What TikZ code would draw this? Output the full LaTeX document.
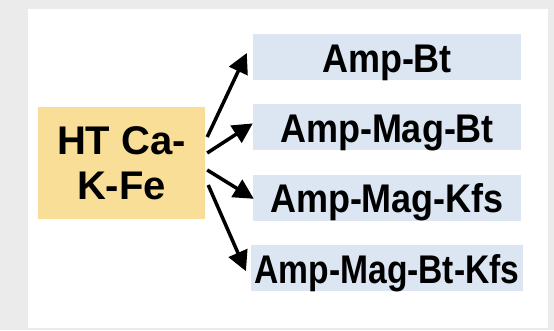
\documentclass[tikz,border=0pt]{standalone}
\usepackage{fontspec}
\setmainfont{Liberation Sans}
\newfontfamily\labfont[FakeStretch=0.9]{Liberation Sans}
\newfontfamily\tightfont[FakeStretch=0.84]{Liberation Sans}
\usepackage{tikz}
\usetikzlibrary{arrows.meta,positioning}

\definecolor{rockyellow}{RGB}{248,222,150}
\definecolor{assemblue}{RGB}{220,230,242}
\definecolor{framegray}{RGB}{235,235,235}

\tikzset{
  rock/.style={rectangle,fill=rockyellow,minimum width=167pt,minimum height=112pt,
    align=center,font=\bfseries\fontsize{40}{45}\selectfont},
  assem/.style={rectangle,fill=assemblue,minimum width=268pt,inner ysep=0pt,
    text height=38pt,text depth=8pt,font=\labfont\bfseries\fontsize{40}{45}\selectfont},
  arr/.style={line width=3.5pt,-{Triangle[length=20pt,width=20pt]}}
}

\begin{document}
\begin{tikzpicture}[x=1pt,y=-1pt,node distance=24pt]
            \fill [framegray] (0,0) rectangle (554,330);
            \fill [white] (28,9) rectangle (548,328);
            \useasboundingbox (0,0) rectangle (554,330);

            \node [rock] (htcakfe) at (121.5,163) {HT Ca-\\K-Fe};

            \node [assem] (ampbt) at (387,57) {Amp-Bt};
            \node [assem,below=of ampbt] (ampmagbt) {Amp-Mag-Bt};
            \node [assem,below=of ampmagbt] (ampmagkfs) {Amp-Mag-Kfs};
            \node [assem,below=of ampmagkfs,font=\tightfont\bfseries\fontsize{40}{45}\selectfont] (ampmagbtkfs) {Amp-Mag-Bt-Kfs};

            \draw [arr] ([xshift=2pt,yshift=26pt]htcakfe.east) -- ([xshift=-6pt,yshift=4pt]ampbt.west);
            \draw [arr] ([xshift=2pt,yshift=10pt]htcakfe.east) -- ([yshift=4pt]ampmagbt.west);
            \draw [arr] ([xshift=2pt,yshift=-7pt]htcakfe.east) -- ([xshift=1pt,yshift=-1pt]ampmagkfs.west);
            \draw [arr] ([xshift=3pt,yshift=-22pt]htcakfe.east) -- ([xshift=-5pt,yshift=-3pt]ampmagbtkfs.west);
\end{tikzpicture}
\end{document}
